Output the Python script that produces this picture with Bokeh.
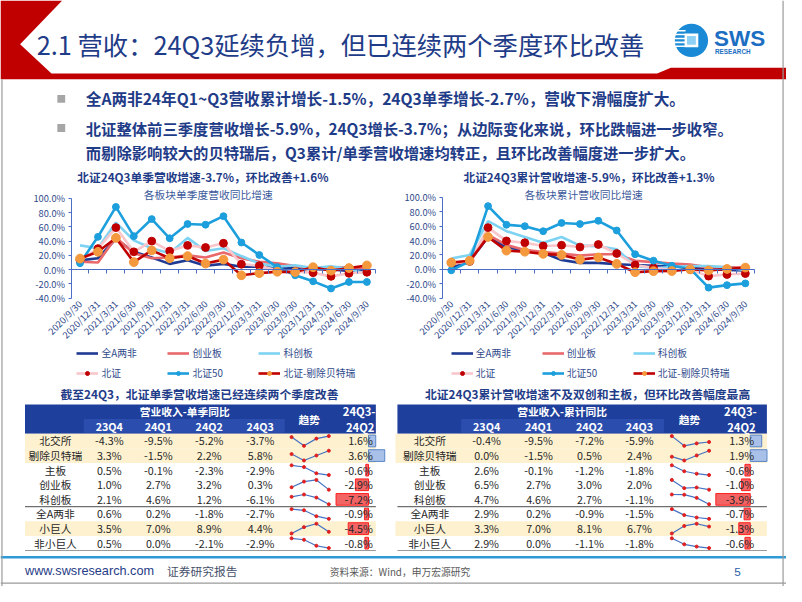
import math
from bokeh.plotting import figure
from bokeh.models import Range1d, LinearAxis, FixedTicker, Legend, LegendItem
from bokeh.core.properties import value
from bokeh.embed import file_html
from bokeh.resources import INLINE

FONT = "Noto Sans CJK SC"
NAVY = "#1f3c88"

# ---------------- data ----------------
dates = ["2020/9/30", "2020/12/31", "2021/3/31", "2021/6/30", "2021/9/30", "2021/12/31",
         "2022/3/31", "2022/6/30", "2022/9/30", "2022/12/31", "2023/3/31", "2023/6/30",
         "2023/9/30", "2023/12/31", "2024/3/31", "2024/6/30", "2024/9/30"]
series_names = ["全A两非", "创业板", "科创板", "北证", "北证50", "北证-剔除贝特瑞"]

# single-quarter YoY revenue growth (%)
sq_quanA = [13, 16, 43, 25, 17, 8, 13, 5.5, 8, 4, 4, 3, 2, 0.6, 0.2, -1.8, -2.7]
sq_cyb = [11, 10, 45, 23, 16, 17, 20, 17, 24, 16, 11, 9, 5, 1.0, 2.7, 3.2, 0.3]
sq_kcb = [34, 30, 66, 41, 30, 23, 44.5, 26, 30, 19, 8.5, 4, 6, 2.1, 4.6, 1.2, -6.1]
sq_bz = [13, 29.5, 59, 25, 40, 26, 34, 31, 37, 7.5, 5.5, -1, -3, -4.3, -9.5, -5.2, -3.7]
sq_bz50 = [9, 46, 88, 47, 71, 44, 64, 63, 75, 38, 20.5, 3.5, -8, -16.5, -26.5, -17.4, -17.4]
sq_ex = [15.5, 25, 44.5, 10.5, 27, 16, 19, 8.5, 14, -8, -5, -3, -3.5, 3.3, -1.5, 2.2, 5.8]

# cumulative YoY revenue growth (%)
cu_quanA = [2, 11, 45, 31, 26, 23, 13, 9, 9, 7, 6, 5, 4, 2.9, 0.2, -0.9, -1.5]
cu_cyb = [8, 10, 48, 34, 27, 24, 22, 19, 21, 21, 12, 10, 8, 6.5, 2.7, 3.0, 2.0]
cu_kcb = [15, 20, 67, 53, 45, 37, 45, 33, 32, 28, 5, 1.5, 3, 4.7, 4.6, 2.7, -1.1]
cu_bz = [9, 11, 58, 39.5, 37, 32.5, 33.5, 31, 34.5, 22, 6, 2, -1, -0.4, -9.5, -7.2, -5.9]
cu_bz50 = [-1.4, 11, 88, 62, 60, 53, 64.5, 63, 67.5, 54, 21, 12, 5, 0.5, -25.5, -22, -19.6]
cu_ex = [9.5, 12, 45, 26, 24.5, 21.5, 20, 13.5, 16.5, 7.5, -4, -2.5, -2.4, 0.0, -1.5, 0.5, 2.4]

# tables
tbl_rows = ["北交所", "剔除贝特瑞", "主板", "创业板", "科创板", "全A两非", "小巨人", "非小巨人"]
tbl_cols = ["23Q4", "24Q1", "24Q2", "24Q3"]
tbl_highlight = [True, True, False, False, False, False, True, False]

t1_23Q4 = [-4.3, 3.3, 0.5, 1.0, 2.1, 0.6, 3.5, 0.5]
t1_24Q1 = [-9.5, -1.5, -0.1, 2.7, 4.6, 0.2, 7.0, 0.0]
t1_24Q2 = [-5.2, 2.2, -2.3, 3.2, 1.2, -1.8, 8.9, -2.1]
t1_24Q3 = [-3.7, 5.8, -2.9, 0.3, -6.1, -2.7, 4.4, -2.9]
t1_diff = [1.6, 3.6, -0.6, -2.9, -7.2, -0.9, -4.5, -0.8]

t2_23Q4 = [-0.4, 0.0, 2.6, 6.5, 4.7, 2.9, 3.3, 2.9]
t2_24Q1 = [-9.5, -1.5, -0.1, 2.7, 4.6, 0.2, 7.0, 0.0]
t2_24Q2 = [-7.2, 0.5, -1.2, 3.0, 2.7, -0.9, 8.1, -1.1]
t2_24Q3 = [-5.9, 2.4, -1.8, 2.0, -1.1, -1.5, 6.7, -1.8]
t2_diff = [1.3, 1.9, -0.6, -1.0, -3.9, -0.7, -1.3, -0.6]

# ---------------- canvas: slide coordinates (802 x 602) drawn into 786 x 586 ----------------
RW, RH_ = 802, 602
W, H = 786, 586
SX, SY = W / RW, H / RH_
S = (SX + SY) / 2

p = figure(width=W, height=H, x_range=Range1d(0, RW), y_range=Range1d(RH_, 0),
           x_axis_type=None, y_axis_type=None, toolbar_location=None,
           output_backend="svg", min_border=0, outline_line_color=None)
p.title.visible = False
p.background_fill_color = "white"
p.border_fill_color = "white"


def fs(size):
    return f"{size * S:.2f}px"


def xr(zero_px, ppu):
    return Range1d((0 - zero_px) / ppu, (RW - zero_px) / ppu)


def yr(zero_py, ppu):
    return Range1d((zero_py - RH_) / ppu, (zero_py - 0) / ppu)


def txt(x, y, s, size, color, bold=False, align="left", font=FONT):
    p.text(x=[x], y=[y], text=[s], text_font=value(font), text_font_size=fs(size),
           text_color=color, text_font_style="bold" if bold else "normal",
           text_align=align, text_baseline="middle")


# chart geometry
C1 = dict(tag="c1", xl=72.0, xr=383.0, yt=203.3, yb=305.7, leg=(78, 364),
          title=("北证24Q3单季营收增速-3.7%，环比改善+1.6%", 206.5),
          sub=("各板块单季度营收同比增速", 212),
          data=[sq_quanA, sq_cyb, sq_kcb, sq_bz, sq_bz50, sq_ex])
C2 = dict(tag="c2", xl=450.6, xr=769.4, yt=202.3, yb=305.7, leg=(460, 364),
          title=("北证24Q3累计营收增速-5.9%，环比改善+1.3%", 600.5),
          sub=("各板块累计营收同比增速", 595),
          data=[cu_quanA, cu_cyb, cu_kcb, cu_bz, cu_bz50, cu_ex])

# table geometry
T1 = dict(tag="t1", L=25, R=383, hl=(25, 383), name_cx=56, col_cx=[111, 161, 213, 265],
          spark=(297, 335), diff_r=380, bar0=375.5, bar_ppu=4.6, sub=(85, 290),
          head_cx=188, trend_cx=315, diff_cx=366, title_cx=203,
          title="截至24Q3，北证单季营收增速已经连续两个季度改善", head="营业收入-单季同比",
          cols=[t1_23Q4, t1_24Q1, t1_24Q2, t1_24Q3], diff=t1_diff)
T2 = dict(tag="t2", L=405, R=782, hl=(403, 782), name_cx=438, col_cx=[496, 549, 601, 652],
          spark=(685, 723), diff_r=769, bar0=765, bar_ppu=9.0, sub=(470, 677),
          head_cx=573, trend_cx=703, diff_cx=755, title_cx=599,
          title="北证24Q3累计营收增速不及双创和主板，但环比改善幅度最高", head="营业收入-累计同比",
          cols=[t2_23Q4, t2_24Q1, t2_24Q2, t2_24Q3], diff=t2_diff)

ex_x, ex_y = {}, {}
for c in (C1, C2):
    ppx = (c["xr"] - c["xl"]) / len(dates)
    ppy = (c["yb"] - c["yt"]) / 140.0
    ex_x[c["tag"] + "x"] = xr(c["xl"] + 0.5 * ppx, ppx)
    ex_y[c["tag"] + "y"] = yr(c["yb"] - 40 * ppy, ppy)
for t in (T1, T2):
    ex_x[t["tag"] + "b"] = xr(t["bar0"], t["bar_ppu"])
    ex_x[t["tag"] + "s"] = xr(t["spark"][0], (t["spark"][1] - t["spark"][0]) / 3.0)
p.extra_x_ranges = ex_x
p.extra_y_ranges = ex_y

# ---------------- header ----------------
p.patch(x=[0, 63, 20, 52, 670, 684, 802, 802, 0], y=[0, 0, 45, 75, 75, 69, 69, 81, 81],
        fill_color="#c00000", line_color=None)
txt(37, 45, "2.1 营收：24Q3延续负增，但已连续两个季度环比改善", 25.9, NAVY)

# logo
p.circle(x=[705], y=[41], radius=17, fill_color="#1a8ad6", line_color=None)
p.segment(x0=[688, 688, 688, 688, 689], x1=[699, 699, 699, 699, 699],
          y0=[31, 35, 39, 43, 47], y1=[31, 35, 39, 43, 47], line_color="white", line_width=1.6)
p.quad(left=[698], right=[712], top=[34], bottom=[48], fill_color="white", line_color=None)
p.quad(left=[700.5], right=[709.5], top=[36.5], bottom=[45.5], fill_color="#8fd0f5", line_color=None)
txt(728, 39, "SWS", 23, "#1b6ec2", bold=True, font="Liberation Sans")
txt(729, 52.5, "RESEARCH", 6.5, "#1b6ec2", bold=True, font="Liberation Sans")

# bullets
p.rect(x=[62, 62], y=[101, 131], width=8, height=8, fill_color="#a6a6a6", line_color=None)
txt(87, 101, "全A两非24年Q1~Q3营收累计增长-1.5%，24Q3单季增长-2.7%，营收下滑幅度扩大。", 16, NAVY, bold=True)
txt(87, 131, "北证整体前三季度营收增长-5.9%，24Q3增长-3.7%；从边际变化来说，环比跌幅进一步收窄。", 15.7, NAVY, bold=True)
txt(87, 156, "而剔除影响较大的贝特瑞后，Q3累计/单季营收增速均转正，且环比改善幅度进一步扩大。", 15.7, NAVY, bold=True)

# ---------------- charts ----------------
styles = [
    dict(line="#1f3a93", marker=None, ms=0),
    dict(line="#e8686c", marker=None, ms=0),
    dict(line="#7fd3f2", marker=None, ms=0),
    dict(line="#f9c6cb", marker="#c00000", ms=8),
    dict(line="#1c9fdc", marker="#1c9fdc", ms=7),
    dict(line="#c00000", marker="#f4993d", ms=9),
]
AXC = "#4a6fc4"
LBLC = "#2f4a8a"
yticks = [-40, -20, 0, 20, 40, 60, 80, 100]
idx = list(range(len(dates)))

for c in (C1, C2):
    xn, yn = c["tag"] + "x", c["tag"] + "y"
    txt(c["title"][1], 180.5, c["title"][0], 12, NAVY, bold=True, align="center")
    txt(c["sub"][1], 199.5, c["sub"][0], 11, "#3c5a9c", align="center")

    yax = LinearAxis(x_range_name=xn, y_range_name=yn, fixed_location=-0.5, bounds=(-40, 100),
                     ticker=FixedTicker(ticks=yticks),
                     major_label_overrides={t: f"{t:.1f}%" for t in yticks},
                     axis_line_color=AXC, major_tick_line_color=AXC, major_tick_out=3,
                     major_tick_in=0, minor_tick_line_color=None, major_label_standoff=3,
                     major_label_text_font=FONT, major_label_text_font_size=fs(9.5),
                     major_label_text_color=LBLC)
    p.add_layout(yax, "left")

    zax = LinearAxis(x_range_name=xn, y_range_name=yn, fixed_location=0,
                     bounds=(-0.5, len(dates) - 0.5),
                     ticker=FixedTicker(ticks=[i - 0.5 for i in range(len(dates) + 1)]),
                     major_label_overrides={i - 0.5: "" for i in range(len(dates) + 1)},
                     axis_line_color=AXC, major_tick_line_color=AXC, major_tick_out=4,
                     major_tick_in=0, minor_tick_line_color=None, major_label_text_color=None)
    p.add_layout(zax, "below")

    lax = LinearAxis(x_range_name=xn, y_range_name=yn, fixed_location=-40,
                     ticker=FixedTicker(ticks=idx),
                     major_label_overrides={i: d for i, d in enumerate(dates)},
                     axis_line_color=None, major_tick_line_color=None, major_tick_out=0,
                     major_tick_in=0, minor_tick_line_color=None, major_label_standoff=4,
                     major_label_orientation=math.pi / 4,
                     major_label_text_font=FONT, major_label_text_font_size=fs(9.5),
                     major_label_text_color=LBLC)
    p.add_layout(lax, "below")

    items = []
    for name, ys, st in zip(series_names, c["data"], styles):
        rs = [p.line(idx, ys, line_color=st["line"], line_width=2.6,
                     x_range_name=xn, y_range_name=yn)]
        if st["marker"]:
            rs.append(p.scatter(idx, ys, size=st["ms"] * S, fill_color=st["marker"],
                                line_color=st["marker"], x_range_name=xn, y_range_name=yn))
        items.append(LegendItem(label=name, renderers=rs))
    lx, ly = c["leg"]
    leg = Legend(items=items, location=(lx * SX, (RH_ - (ly + 26)) * SY),
                 orientation="horizontal", ncols=3, glyph_width=round(22 * SX),
                 glyph_height=round(10 * SY), label_height=round(10 * SY),
                 label_width=round(61 * SX), label_standoff=3, spacing=round(6 * SY),
                 padding=0, margin=0, background_fill_alpha=0, border_line_alpha=0,
                 label_text_font=FONT, label_text_font_size=fs(10), label_text_color=LBLC)
    p.add_layout(leg, "center")

# ---------------- tables ----------------
HEAD = "#1f3f9c"
SUBH = "#2b4eae"
TOP, MID, BOT, RH = 415, 430, 445, 15
row_c = [BOT + RH * (i + 0.5) for i in range(len(tbl_rows))]

for t in (T1, T2):
    L, R = t["L"], t["R"]
    txt(t["title_cx"], 404, t["title"], 12.1, NAVY, bold=True, align="center")
    p.quad(left=[L], right=[R], top=[TOP], bottom=[BOT], fill_color=HEAD, line_color=None)
    p.quad(left=[t["sub"][0]], right=[t["sub"][1]], top=[MID], bottom=[BOT - 1],
           fill_color=SUBH, line_color=None)
    txt(t["head_cx"], 422, t["head"], 11, "white", bold=True, align="center")
    for cx, cname in zip(t["col_cx"], tbl_cols):
        txt(cx, 437.5, cname, 11, "white", bold=True, align="center")
    txt(t["trend_cx"], 430, "趋势", 11, "white", bold=True, align="center")
    txt(t["diff_cx"], 422, "24Q3-", 11.5, "white", bold=True, align="center")
    txt(t["diff_cx"] + 1, 438, "24Q2", 11.5, "white", bold=True, align="center")

    hl_rows = [i for i, h in enumerate(tbl_highlight) if h]
    p.quad(left=t["hl"][0], right=t["hl"][1], top=[BOT + RH * i for i in hl_rows],
           bottom=[BOT + RH * (i + 1) for i in hl_rows], fill_color="#fdf1cf", line_color=None)

    # bars for 24Q3-24Q2
    d = t["diff"]
    p.hbar(y=row_c, left=0, right=d, height=12, x_range_name=t["tag"] + "b",
           fill_color=["#a9c1e8" if v > 0 else "#f36464" for v in d],
           line_color=["#5a86c8" if v > 0 else "#ff2020" for v in d], line_width=1)

    p.text(x=[t["name_cx"]] * len(tbl_rows), y=row_c, text=tbl_rows, text_font=value(FONT),
           text_font_size=fs(11), text_color="#262626", text_align="center", text_baseline="middle")
    for cx, vals in zip(t["col_cx"], t["cols"]):
        p.text(x=[cx] * len(vals), y=row_c, text=[f"{v:.1f}%" for v in vals],
               text_font=value(FONT), text_font_size=fs(11), text_color="#262626",
               text_align="center", text_baseline="middle")
    p.text(x=[t["diff_r"]] * len(d), y=row_c, text=[f"{v:.1f}%" for v in d],
           text_font=value(FONT), text_font_size=fs(11), text_color="#262626",
           text_align="right", text_baseline="middle")

    # sparklines (each row scaled to its own min/max)
    xs_all, ys_all, px_, py_ = [], [], [], []
    for i in range(len(tbl_rows)):
        vals = [col[i] for col in t["cols"]]
        mn, mx = min(vals), max(vals)
        rt = BOT + RH * i
        ys = [rt + 2.5 + (mx - v) / (mx - mn) * (RH - 5) for v in vals]
        xs_all.append([0, 1, 2, 3])
        ys_all.append(ys)
        px_ += [0, 1, 2, 3]
        py_ += ys
    p.multi_line(xs_all, ys_all, line_color="#4472c4", line_width=1.2, x_range_name=t["tag"] + "s")
    p.scatter(px_, py_, size=3, fill_color="#e02020", line_color="#e02020",
              x_range_name=t["tag"] + "s")

    p.segment(x0=[L, L], x1=[R, R], y0=[BOT + RH * 5, BOT + RH * 8], y1=[BOT + RH * 5, BOT + RH * 8],
              line_color=["#6f6f6f", "#9a9a9a"], line_width=1.2)

# ---------------- footer & frame ----------------
p.segment(x0=[0], x1=[802], y0=[572], y1=[572], line_color="#2e9ad6", line_width=2.5)
txt(25, 586, "www.swsresearch.com", 13, NAVY, font="Liberation Sans")
txt(170, 586, "证券研究报告", 12, "#44506a")
txt(336, 587, "资料来源：Wind，申万宏源研究", 10, "#595959")
txt(752, 587, "5", 12, "#1f5fa8", align="center", font="Liberation Sans")
p.segment(x0=[1.5, 798.5, 0], x1=[1.5, 798.5, 802], y0=[81, 0, 598.5], y1=[602, 602, 598.5],
          line_color="#9a9a9a", line_width=1.2)

open("out.html", "w").write(file_html(p, INLINE))
